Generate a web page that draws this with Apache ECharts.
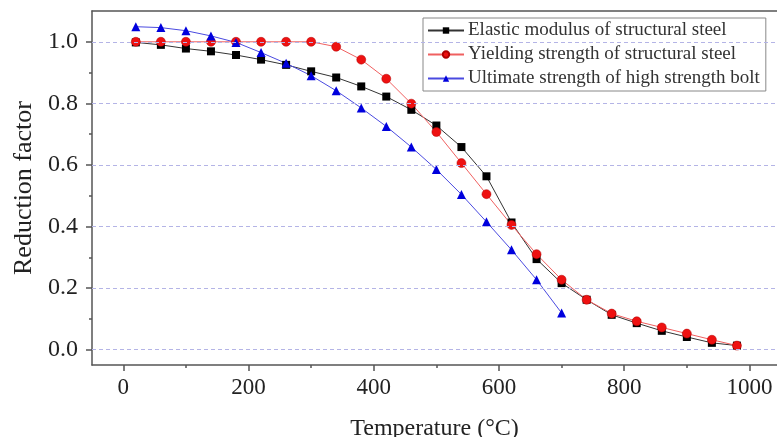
<!DOCTYPE html>
<html>
<head>
<meta charset="utf-8">
<script src="https://cdn.jsdelivr.net/npm/echarts@6/dist/echarts.min.js"></script>
<style>
  html, body { margin: 0; padding: 0; background: #fff; }
  #main { width: 777px; height: 437px; }
</style>
</head>
<body>
<div id="main"></div>
<script>
// temperatures (°C)
const temps = [20, 60, 100, 140, 180, 220, 260, 300, 340, 380, 420, 460, 500,
  540, 580, 620, 660, 700, 740, 780, 820, 860, 900, 940, 980];
const boltTemps = [20, 60, 100, 140, 180, 220, 260, 300, 340, 380, 420, 460, 500,
  540, 580, 620, 660, 700];

// reduction factors
const elasticModulus = [0.998, 0.99, 0.978, 0.969, 0.957, 0.942, 0.925, 0.904, 0.884,
  0.855, 0.822, 0.779, 0.728, 0.658, 0.563, 0.413, 0.294, 0.216, 0.162, 0.113,
  0.086, 0.061, 0.041, 0.022, 0.013];
const yieldStrength = [1.0, 1.0, 1.0, 1.0, 1.0, 1.0, 1.0, 1.0, 0.984, 0.942, 0.88,
  0.799, 0.707, 0.606, 0.505, 0.405, 0.31, 0.227, 0.162, 0.117, 0.092, 0.072,
  0.052, 0.032, 0.013];
const boltStrength = [1.049, 1.046, 1.036, 1.019, 0.998, 0.965, 0.93, 0.89, 0.841,
  0.785, 0.725, 0.658, 0.585, 0.504, 0.415, 0.324, 0.227, 0.119];

const xTicks = [0, 200, 400, 600, 800, 1000];
const xMinorTicks = [100, 300, 500, 700, 900];
const yTicks = [0, 0.2, 0.4, 0.6, 0.8, 1.0];
const yMinorTicks = [0.1, 0.3, 0.5, 0.7, 0.9];

const serif = "'Liberation Serif', 'Times New Roman', serif";
const axisColor = '#555';

const pairs = (xs, ys) => xs.map((x, i) => [x, ys[i]]);

let myChart = echarts.init(document.getElementById('main'));
myChart.setOption({
  animation: false,
  grid: { left: 92, top: 11, right: 0, bottom: 72, outerBoundsMode: 'none', containLabel: false },
  legend: {
    orient: 'vertical',
    left: 423,
    top: 18,
    padding: [3, 6, 3, 4],
    itemGap: 5,
    itemWidth: 36,
    itemHeight: 8,
    borderColor: '#888',
    borderWidth: 1,
    textStyle: { fontFamily: serif, fontSize: 19, color: '#333', padding: [0, 0, 0, -1] },
    data: [
      'Elastic modulus of structural steel',
      'Yielding strength of structural steel',
      'Ultimate strength of high strength bolt'
    ]
  },
  xAxis: [{
    type: 'value',
    min: -50,
    max: 1044,
    name: 'Temperature (°C)',
    nameLocation: 'middle',
    nameGap: 52,
    nameTextStyle: { fontFamily: serif, fontSize: 24, color: '#222' },
    axisLine: { onZero: false, lineStyle: { color: axisColor, width: 1.5 } },
    axisTick: { customValues: xTicks, length: 6, lineStyle: { color: axisColor, width: 1.5 } },
    axisLabel: {
      customValues: xTicks, margin: 11,
      fontFamily: serif, fontSize: 23, color: '#222',
      formatter: v => String(v)
    },
    splitLine: { show: false }
  }, {
    // minor ticks
    type: 'value',
    position: 'bottom',
    min: -50,
    max: 1044,
    axisLine: { show: false, onZero: false },
    axisTick: { customValues: xMinorTicks, length: 3, lineStyle: { color: axisColor, width: 1.5 } },
    axisLabel: { show: false },
    splitLine: { show: false }
  }, {
    // top frame
    type: 'value',
    position: 'top',
    min: -50,
    max: 1044,
    axisLine: { onZero: false, lineStyle: { color: axisColor, width: 1.5 } },
    axisTick: { show: false },
    axisLabel: { show: false },
    splitLine: { show: false }
  }],
  yAxis: [{
    type: 'value',
    position: 'left',
    min: -0.05,
    max: 1.1,
    name: 'Reduction factor',
    nameLocation: 'middle',
    nameGap: 55,
    nameTextStyle: { fontFamily: serif, fontSize: 26, color: '#222' },
    axisLine: { show: true, onZero: false, lineStyle: { color: axisColor, width: 1.5 } },
    axisTick: { show: true, customValues: yTicks, length: 6, lineStyle: { color: axisColor, width: 1.5 } },
    axisLabel: {
      customValues: yTicks, margin: 14,
      fontFamily: serif, fontSize: 24, color: '#222',
      formatter: v => v.toFixed(1)
    },
    splitLine: { show: false }
  }, {
    // minor ticks
    type: 'value',
    position: 'left',
    min: -0.05,
    max: 1.1,
    axisLine: { show: false, onZero: false },
    axisTick: { show: true, customValues: yMinorTicks, length: 3, lineStyle: { color: axisColor, width: 1.5 } },
    axisLabel: { show: false },
    splitLine: { show: false }
  }],
  series: [{
    // dashed grid lines
    type: 'line',
    data: [],
    silent: true,
    markLine: {
      silent: true,
      symbol: 'none',
      label: { show: false },
      lineStyle: { color: '#b4b4e6', type: [4, 3], width: 1 },
      data: yTicks.map(v => ({ yAxis: v }))
    }
  }, {
    name: 'Elastic modulus of structural steel',
    type: 'line',
    data: pairs(temps, elasticModulus),
    symbol: 'rect',
    symbolSize: 8,
    itemStyle: { color: '#000' },
    lineStyle: { color: '#333', width: 1 }
  }, {
    name: 'Yielding strength of structural steel',
    type: 'line',
    data: pairs(temps, yieldStrength),
    symbol: 'circle',
    symbolSize: 9,
    itemStyle: { color: '#ee1111', borderColor: '#b00000', borderWidth: 0.5 },
    lineStyle: { color: '#f06060', width: 1 }
  }, {
    name: 'Ultimate strength of high strength bolt',
    type: 'line',
    data: pairs(boltTemps, boltStrength),
    symbol: 'triangle',
    symbolSize: 9,
    itemStyle: { color: '#0000dd' },
    lineStyle: { color: '#4a4ae0', width: 1 }
  }]
});
</script>
</body>
</html>
